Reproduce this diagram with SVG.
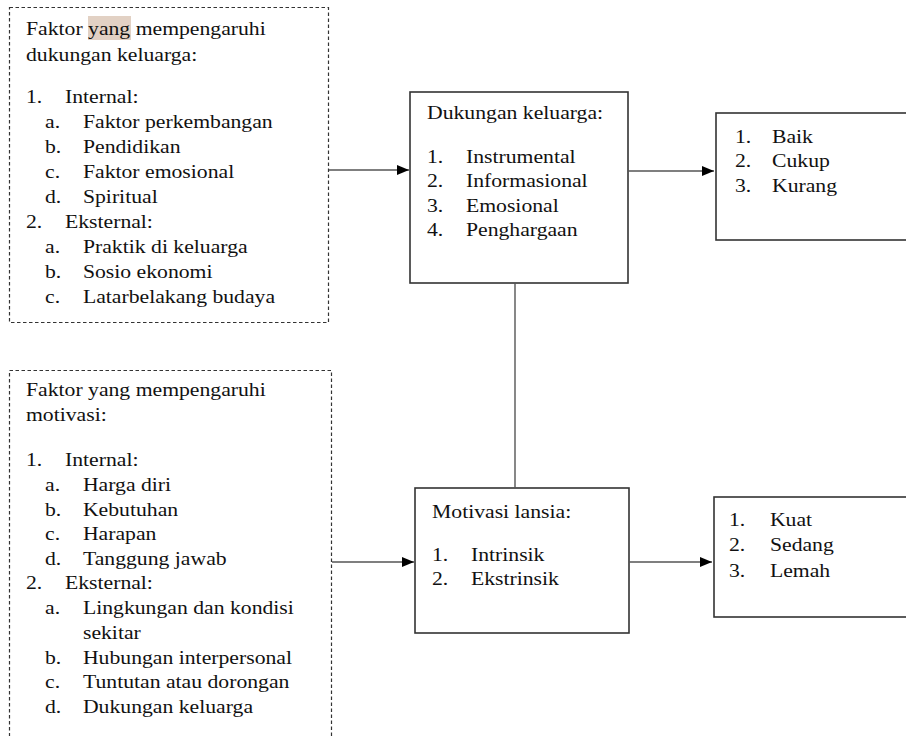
<svg xmlns="http://www.w3.org/2000/svg" width="906" height="736" viewBox="0 0 906 736">
<style>
text{font-family:"Liberation Serif","Times New Roman",serif;font-size:18.7px;fill:#111}
.dash{fill:#fff;stroke:#333;stroke-width:1.2;stroke-dasharray:3.5 2.5}
.box{fill:#fff;stroke:#333;stroke-width:1.6}
.con{fill:none;stroke:#555;stroke-width:1.4}
</style>
<defs>
<marker id="arr" viewBox="0 0 12 10" refX="12" refY="5" markerWidth="12" markerHeight="10" markerUnits="userSpaceOnUse" orient="auto">
<path d="M0,0 L12,5 L0,10 Z" fill="#000"/>
</marker>
</defs>
<rect width="906" height="736" fill="#fff"/>

<g id="faktor-dukungan">
<rect class="dash" x="9.5" y="7.5" width="319" height="315"/>
<rect x="88" y="16" width="43" height="24" fill="#e2d1c4"/>
<g transform="translate(26 0) scale(1.16 1)">
<text x="0" y="35">Faktor yang mempengaruhi</text>
<text x="0" y="61">dukungan keluarga:</text>
<text x="0" y="103">1.</text><text x="33.6" y="103">Internal:</text>
<text x="16.4" y="128">a.</text><text x="49.1" y="128">Faktor perkembangan</text>
<text x="16.4" y="153">b.</text><text x="49.1" y="153">Pendidikan</text>
<text x="16.4" y="178">c.</text><text x="49.1" y="178">Faktor emosional</text>
<text x="16.4" y="203">d.</text><text x="49.1" y="203">Spiritual</text>
<text x="0" y="228">2.</text><text x="33.6" y="228">Eksternal:</text>
<text x="16.4" y="253">a.</text><text x="49.1" y="253">Praktik di keluarga</text>
<text x="16.4" y="278">b.</text><text x="49.1" y="278">Sosio ekonomi</text>
<text x="16.4" y="303">c.</text><text x="49.1" y="303">Latarbelakang budaya</text>
</g>
</g>

<g id="faktor-motivasi">
<rect class="dash" x="9.5" y="370.5" width="322" height="380"/>
<g transform="translate(26 0) scale(1.16 1)">
<text x="0" y="396">Faktor yang mempengaruhi</text>
<text x="0" y="421">motivasi:</text>
<text x="0" y="466">1.</text><text x="33.6" y="466">Internal:</text>
<text x="16.4" y="491">a.</text><text x="49.1" y="491">Harga diri</text>
<text x="16.4" y="516">b.</text><text x="49.1" y="516">Kebutuhan</text>
<text x="16.4" y="540">c.</text><text x="49.1" y="540">Harapan</text>
<text x="16.4" y="565">d.</text><text x="49.1" y="565">Tanggung jawab</text>
<text x="0" y="589">2.</text><text x="33.6" y="589">Eksternal:</text>
<text x="16.4" y="614">a.</text><text x="49.1" y="614">Lingkungan dan kondisi</text>
<text x="49.1" y="639">sekitar</text>
<text x="16.4" y="664">b.</text><text x="49.1" y="664">Hubungan interpersonal</text>
<text x="16.4" y="688">c.</text><text x="49.1" y="688">Tuntutan atau dorongan</text>
<text x="16.4" y="713">d.</text><text x="49.1" y="713">Dukungan keluarga</text>
</g>
</g>

<g id="dukungan-keluarga">
<rect class="box" x="410" y="92" width="218" height="191"/>
<g transform="translate(427 0) scale(1.16 1)">
<text x="0" y="119">Dukungan keluarga:</text>
<text x="0" y="163">1.</text><text x="33.6" y="163">Instrumental</text>
<text x="0" y="187">2.</text><text x="33.6" y="187">Informasional</text>
<text x="0" y="212">3.</text><text x="33.6" y="212">Emosional</text>
<text x="0" y="236">4.</text><text x="33.6" y="236">Penghargaan</text>
</g>
</g>

<g id="motivasi-lansia">
<rect class="box" x="415" y="488" width="214" height="145"/>
<g transform="translate(432 0) scale(1.16 1)">
<text x="0" y="518">Motivasi lansia:</text>
<text x="0" y="561">1.</text><text x="33.6" y="561">Intrinsik</text>
<text x="0" y="585">2.</text><text x="33.6" y="585">Ekstrinsik</text>
</g>
</g>

<g id="hasil-dukungan">
<rect class="box" x="716" y="113" width="200" height="127"/>
<g transform="translate(735 0) scale(1.16 1)">
<text x="0" y="143">1.</text><text x="31.9" y="143">Baik</text>
<text x="0" y="167">2.</text><text x="31.9" y="167">Cukup</text>
<text x="0" y="192">3.</text><text x="31.9" y="192">Kurang</text>
</g>
</g>

<g id="hasil-motivasi">
<rect class="box" x="714" y="497" width="200" height="120"/>
<g transform="translate(729 0) scale(1.16 1)">
<text x="0" y="526">1.</text><text x="35.3" y="526">Kuat</text>
<text x="0" y="551">2.</text><text x="35.3" y="551">Sedang</text>
<text x="0" y="577">3.</text><text x="35.3" y="577">Lemah</text>
</g>
</g>

<g id="connectors">
<line class="con" x1="329" y1="170" x2="409" y2="170" marker-end="url(#arr)"/>
<line class="con" x1="628" y1="171" x2="714" y2="171" marker-end="url(#arr)"/>
<line class="con" x1="332" y1="562" x2="414" y2="562" marker-end="url(#arr)"/>
<line class="con" x1="629" y1="562" x2="712" y2="562" marker-end="url(#arr)"/>
<line class="con" x1="515" y1="283" x2="515" y2="488"/>
</g>
</svg>
